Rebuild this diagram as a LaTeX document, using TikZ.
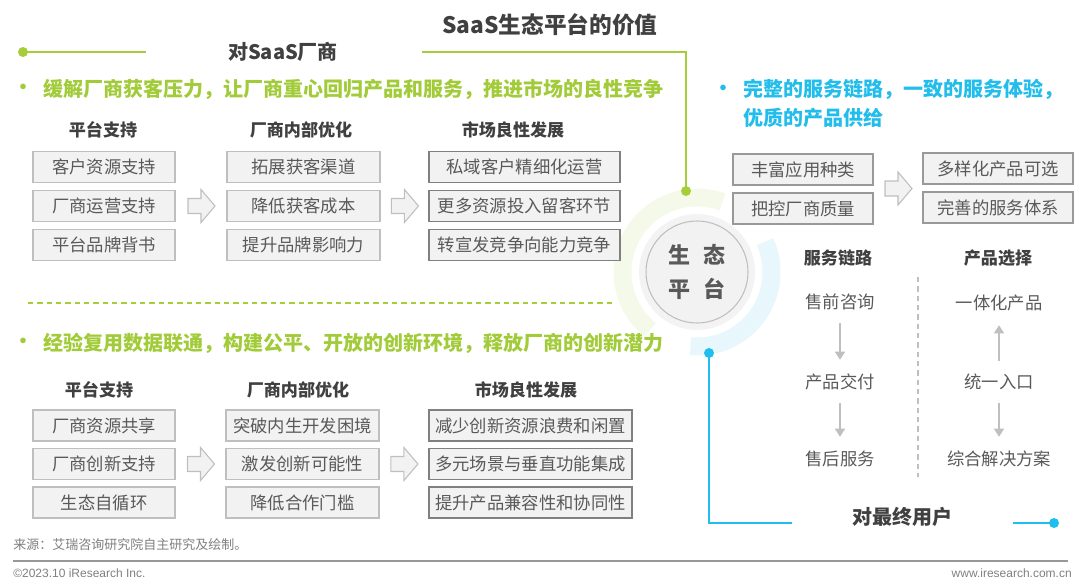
\documentclass[tikz,border=0pt]{standalone}
\usepackage{fontspec}
\setmainfont{Noto Sans CJK SC}
\newfontfamily\arialfont{Liberation Sans}
\usetikzlibrary{arrows.meta, calc}
\definecolor{saasgreen}{HTML}{A6CE39}
\definecolor{textgreen}{HTML}{A2CB3A}
\definecolor{saasblue}{HTML}{1EBFEF}
\definecolor{textblue}{HTML}{22BDEB}
\definecolor{darktext}{HTML}{404040}
\definecolor{boxtext}{HTML}{595959}
\definecolor{boxfill}{HTML}{F2F2F2}
\definecolor{boxline}{HTML}{BFBFBF}
\definecolor{boxdark}{HTML}{808080}
\definecolor{greenband}{HTML}{F5F9EA}
\definecolor{blueband}{HTML}{E8F7FC}
\definecolor{footgray}{HTML}{7F7F7F}

\tikzset{
  lightbox/.style={draw=boxline, line width=0.8pt, fill=boxfill, minimum height=23.25pt,
    font=\fontsize{13pt}{15pt}\selectfont, text=boxtext},
  darkbox/.style={lightbox, draw=boxdark, line width=1pt},
  headtext/.style={font=\fontsize{12.8pt}{15pt}\selectfont\bfseries, text=darktext},
  sidetext/.style={font=\fontsize{15pt}{18pt}\selectfont\bfseries, text=darktext},
  greenbullet/.style={font=\fontsize{15pt}{18pt}\selectfont\bfseries, text=textgreen},
  bluebullet/.style={font=\fontsize{15pt}{21.75pt}\selectfont\bfseries, text=textblue},
  flowtext/.style={font=\fontsize{13pt}{15pt}\selectfont, text=boxtext, minimum height=15pt},
  greenline/.style={draw=saasgreen, line width=1.9pt},
  blueline/.style={draw=saasblue, line width=1.9pt},
  grayarrow/.style={draw=boxline, line width=1pt, -{Triangle[width=7.5pt,length=6pt]},
    shorten <=8pt, shorten >=9pt},
  blockarrow/.pic={
    \draw[draw=boxline, fill=boxfill, line width=0.8pt]
      (-13,-7.5) -- (0,-7.5) -- (0,-16.5) -- (14,0) -- (0,16.5) -- (0,7.5) -- (-13,7.5) -- cycle;
  }
}

\begin{document}
\begin{tikzpicture}[x=0.75pt, y=-0.75pt, every node/.style={inner sep=0pt}]
  \useasboundingbox (0,0) rectangle (1080,588);

  % title
  \node[font=\fontsize{17pt}{20pt}\selectfont\bfseries, text=darktext] (title) at (550,25)
    {SaaS生态平台的价值};

  % ecosystem circle with the two bands
  \coordinate (ecoc) at (697,272);
  \draw[greenband, line width=13.5pt] ($(ecoc)+(-70:74.5)$) arc[start angle=-70, end angle=-231, radius=74.5];
  \draw[blueband, line width=13.5pt] ($(ecoc)+(95:74.5)$) arc[start angle=95, end angle=-24, radius=74.5];
  \fill[boxfill!90!white] (ecoc) circle (58);
  \node[circle, draw=boxline, fill=boxfill, line width=0.8pt, minimum size=76.5pt, align=center,
    font=\fontsize{16.5pt}{25.5pt}\selectfont\bfseries, text=boxtext] (eco) at (ecoc)
    {生\hspace{0.55em}态\\平\hspace{0.55em}台};

  % vendor side (green)
  \coordinate (gstart) at (23,52);
  \coordinate (gleft) at (146,52);
  \node[sidetext] (vendor) at (283,52) {对SaaS厂商};
  \coordinate (gright) at (422,52);
  \coordinate (gcorner) at (686,52);
  \coordinate (gend) at (686,191);
  \draw[greenline] (gstart) -- (gleft);
  \draw[greenline] (gright) -- (gcorner) -- (gend);
  \fill[saasgreen] (gstart) circle (5) (gend) circle (5);

  % first value line
  \node[greenbullet] (dot1) at (23,89) {·};
  \node[greenbullet, anchor=west] (goal1) at (43,89)
    {缓解厂商获客压力，让厂商重心回归产品和服务，推进市场的良性竞争};
  \node[headtext] (hd1) at (103,130) {平台支持};
  \node[headtext] (hd2) at (301,130) {厂商内部优化};
  \node[headtext] (hd3) at (513,130) {市场良性发展};
  \foreach \t [count=\i] in {客户资源支持,厂商运营支持,平台品牌背书}
    \node[lightbox, minimum width=106.5pt] (ps\i) at (104,128+39*\i) {\t};
  \foreach \t [count=\i] in {拓展获客渠道,降低获客成本,提升品牌影响力}
    \node[lightbox, minimum width=114.75pt] (io\i) at (303.5,128+39*\i) {\t};
  \foreach \t [count=\i] in {私域客户精细化运营,更多资源投入留客环节,转宣发竞争向能力竞争}
    \node[darkbox, minimum width=143.25pt] (md\i) at (524.5,128+39*\i) {\t};
  \pic at ($(ps2.east)!0.5!(io2.west)$) {blockarrow};
  \pic at ($(io2.east)!0.5!(md2.west)$) {blockarrow};

  % separator
  \draw[saasgreen, line width=0.8pt, dash pattern=on 4pt off 3pt] (28,303) -- (612,303);

  % second value line
  \node[greenbullet] (dot2) at (23,343) {·};
  \node[greenbullet, anchor=west] (goal2) at (43,343)
    {经验复用数据联通，构建公平、开放的创新环境，释放厂商的创新潜力};
  \node[headtext] (bhd1) at (99,390) {平台支持};
  \node[headtext] (bhd2) at (298,390) {厂商内部优化};
  \node[headtext] (bhd3) at (526,390) {市场良性发展};
  \foreach \t [count=\i] in {厂商资源共享,厂商创新支持,生态自循环}
    \node[lightbox, minimum width=106.5pt] (bps\i) at (104,387+38.5*\i) {\t};
  \foreach \t [count=\i] in {突破内生开发困境,激发创新可能性,降低合作门槛}
    \node[lightbox, minimum width=114.75pt] (bio\i) at (302.5,387+38.5*\i) {\t};
  \foreach \t [count=\i] in {减少创新资源浪费和闲置,多元场景与垂直功能集成,提升产品兼容性和协同性}
    \node[darkbox, minimum width=152.25pt] (bmd\i) at (530.5,387+38.5*\i) {\t};
  \pic at ($(bps2.east)!0.5!(bio2.west)$) {blockarrow};
  \pic at ($(bio2.east)!0.5!(bmd2.west)$) {blockarrow};

  % user side (blue)
  \node[bluebullet] (dot3) at (723,90) {·};
  \node[bluebullet, anchor=north west, align=left] (goal3) at (743,79)
    {完整的服务链路，一致的服务体验，\\优质的产品供给};
  \node[lightbox, draw=boxline!80!black, minimum width=105pt] (ap1) at (803,169.5) {丰富应用种类};
  \node[lightbox, draw=boxline!80!black, minimum width=105pt] (ap2) at (803,208.5) {把控厂商质量};
  \node[lightbox, draw=boxline!80!black, minimum width=112.5pt] (ch1) at (998,168.5) {多样化产品可选};
  \node[lightbox, draw=boxline!80!black, minimum width=112.5pt] (ch2) at (998,207.5) {完善的服务体系};
  \pic at ($(ap1.east)!0.5!(ch2.west)$) {blockarrow};

  \node[headtext] (svh) at (838,258) {服务链路};
  \node[headtext] (prh) at (998,258) {产品选择};
  \node[flowtext] (sv1) at (840,302) {售前咨询};
  \node[flowtext] (sv2) at (840,382) {产品交付};
  \node[flowtext] (sv3) at (840,459) {售后服务};
  \node[flowtext] (pr1) at (999,303) {一体化产品};
  \node[flowtext] (pr2) at (999,382) {统一入口};
  \node[flowtext] (pr3) at (999,459) {综合解决方案};
  \draw[grayarrow] (sv1) -- (sv2);
  \draw[grayarrow] (sv2) -- (sv3);
  \draw[grayarrow] (pr2) -- (pr1);
  \draw[grayarrow] (pr2) -- (pr3);
  \draw[boxline, line width=0.8pt, dash pattern=on 4pt off 3pt] (918,277) -- (918,477);

  \coordinate (bstart) at (709,353);
  \coordinate (bcorner) at (709,523);
  \coordinate (bleft) at (792,523);
  \node[sidetext] (user) at (902,517) {对最终用户};
  \coordinate (bright) at (1013,523);
  \coordinate (bend) at (1054,523);
  \draw[blueline] (bstart) -- (bcorner) -- (bleft);
  \draw[blueline] (bright) -- (bend);
  \fill[saasblue] (bstart) circle (5) (bend) circle (5);

  % footer
  \node[anchor=west, font=\fontsize{9.75pt}{12pt}\selectfont, text=footgray] (src) at (13,545)
    {来源：艾瑞咨询研究院自主研究及绘制。};
  \draw[footgray!80, line width=0.8pt] (13,561) -- (1068,561);
  \node[anchor=west, font=\arialfont\fontsize{9pt}{11pt}\selectfont, text=footgray] (copy) at (13,573)
    {©2023.10 iResearch Inc.};
  \node[anchor=east, font=\arialfont\fontsize{9pt}{11pt}\selectfont, text=footgray] (web) at (1072,573)
    {www.iresearch.com.cn};
\end{tikzpicture}
\end{document}
